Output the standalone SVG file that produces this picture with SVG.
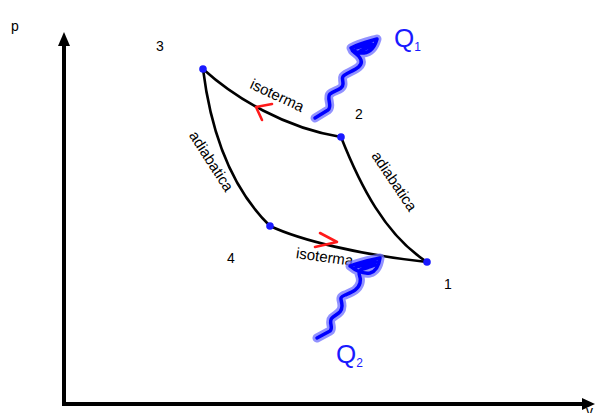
<svg xmlns="http://www.w3.org/2000/svg" width="604" height="413" viewBox="0 0 604 413">
<style>
.lbl{font-family:"Liberation Sans",Arial,sans-serif;font-size:14px;fill:#000}
.cl{font-family:"Liberation Sans",Arial,sans-serif;font-size:15px;fill:#000}
.curve{fill:none;stroke:#000;stroke-width:2.6;stroke-linecap:round}
.axis{fill:none;stroke:#000;stroke-width:4}
.dot{fill:#1a1aff}
.red{fill:none;stroke:#ff1a1a;stroke-width:2.6;stroke-linecap:round;stroke-linejoin:round}
.halo{fill:none;stroke:#6e6eff;stroke-opacity:0.75;stroke-width:9;stroke-linecap:round;stroke-linejoin:round}
.core{fill:none;stroke:#0000ff;stroke-width:3.5;stroke-linecap:round;stroke-linejoin:round}
.q{font-family:"Liberation Sans",Arial,sans-serif;fill:#1a1aff}
</style>
<rect width="604" height="413" fill="#fff"/>
<g id="axes">
<line class="axis" x1="64" y1="406" x2="64" y2="44"/>
<polygon points="64,32 58,46 70,46" fill="#000"/>
<line class="axis" x1="62" y1="404" x2="584" y2="404"/>
<polygon points="595,404 582,398 582,410" fill="#000"/>
<text class="lbl" x="11" y="31">p</text>
<text class="lbl" x="586" y="416">v</text>
</g>
<g id="connectors">
<path class="curve" d="M203,69 C235,98 285,128 341,137"/>
<path class="curve" d="M341,137 C360,185 385,235 427,262"/>
<path class="curve" d="M203,69 C210,125 228,185 270,226"/>
<path class="curve" d="M270,226 C300,240 360,255 427,262"/>
<path class="red" d="M272,104 L256,107 L262,120"/>
<path class="red" d="M320,233 L337,242 L315,247"/>
<text class="cl" transform="translate(275,100) rotate(25)" text-anchor="middle">isoterma</text>
<text class="cl" transform="translate(324,262) rotate(8)" text-anchor="middle">isoterma</text>
<text class="cl" transform="translate(207,164) rotate(57)" text-anchor="middle">adiabatica</text>
<text class="cl" transform="translate(390,184) rotate(56)" text-anchor="middle">adiabatica</text>
</g>
<g id="node-3"><circle class="dot" cx="203" cy="69" r="3.8"/><text class="lbl" x="156" y="51">3</text></g>
<g id="node-2"><circle class="dot" cx="341" cy="137" r="3.8"/><text class="lbl" x="355" y="119">2</text></g>
<g id="node-1"><circle class="dot" cx="427" cy="262" r="3.8"/><text class="lbl" x="444" y="289">1</text></g>
<g id="node-4"><circle class="dot" cx="270" cy="226" r="3.8"/><text class="lbl" x="227" y="263">4</text></g>
<g id="heat-Q1">
<path class="halo" d="M315,118 L328,110 C333,106 326,98 330,94 S343,90 343,84 S340,77 348,73 S363,66 361,60 S352,52 352,50 M351,48 C360,43 370,41 377,39 C375,46 372,52 364,53 C357,53 353,51 351,48 Z"/>
<path class="core" d="M315,118 L328,110 C333,106 326,98 330,94 S343,90 343,84 S340,77 348,73 S363,66 361,60 S352,52 352,50 M351,48 C360,43 370,41 377,39 C375,46 372,52 364,53 C357,53 353,51 351,48 M356,48 C362,46 368,45 372,44 M360,51 C364,49 368,48 371,46"/>
<text class="q" x="394" y="47" font-size="26">Q<tspan font-size="12" dy="4">1</tspan></text>
</g>
<g id="heat-Q2">
<path class="halo" d="M317,338 L330,331 C334,328 328,322 332,318 S342,313 342,306 S338,298 345,295 S358,290 360,283 S357,274 360,272 M350,266 C360,262 371,260 380,258 C379,265 377,271 370,273 C362,274 356,271 350,266 Z"/>
<path class="core" d="M317,338 L330,331 C334,328 328,322 332,318 S342,313 342,306 S338,298 345,295 S358,290 360,283 S357,274 360,272 M350,266 C360,262 371,260 380,258 C379,265 377,271 370,273 C362,274 356,271 350,266 M356,267 C363,265 370,264 376,262 M360,270 C365,268 371,267 375,265"/>
<text class="q" x="336" y="363" font-size="26">Q<tspan font-size="12" dy="4">2</tspan></text>
</g>
</svg>
